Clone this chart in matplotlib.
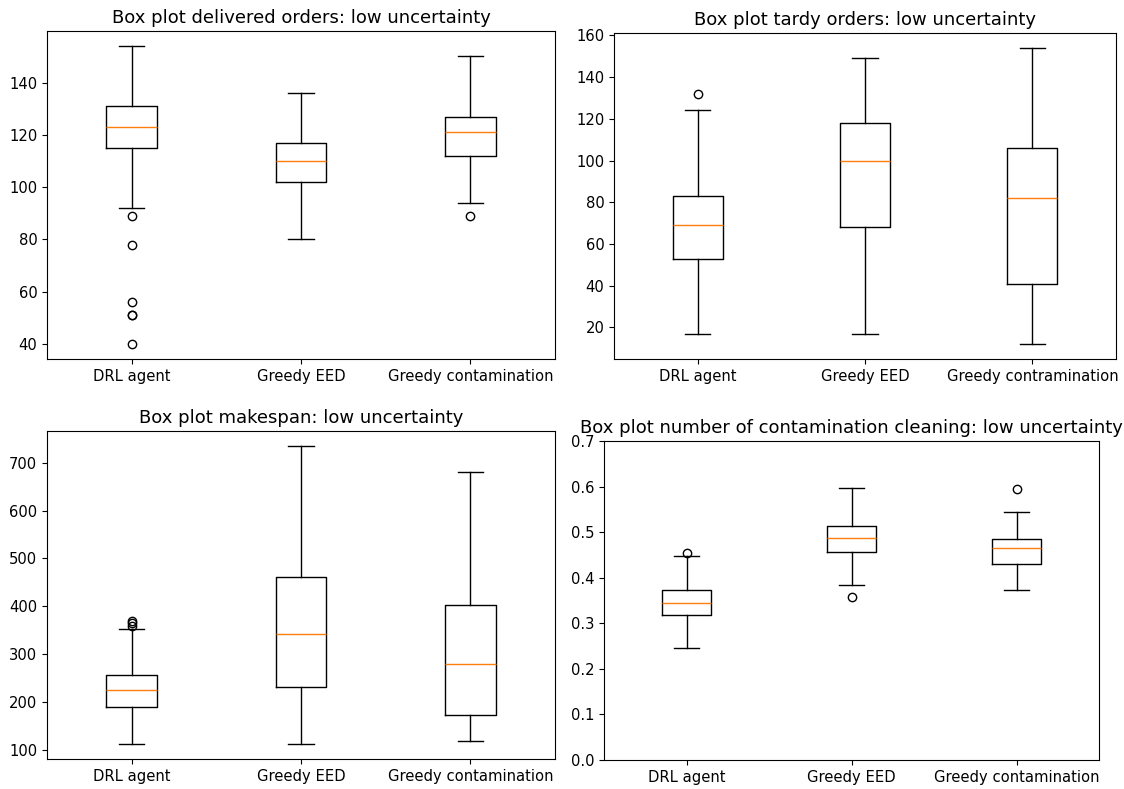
import matplotlib
matplotlib.use("Agg")
import matplotlib.pyplot as plt

W, H = 1124, 789
DPI = 100

categories = ["DRL agent", "Greedy EED", "Greedy contamination"]
categories_tardy = ["DRL agent", "Greedy EED", "Greedy contramination"]

# delivered orders
deliv_whislo = [92, 80, 94]
deliv_q1 = [115, 102, 112]
deliv_med = [123, 110, 121]
deliv_q3 = [131, 117, 127]
deliv_whishi = [154, 136, 150]
deliv_fliers = [[89, 78, 56, 51, 51, 40], [], [89]]

# tardy orders
tardy_whislo = [17, 17, 12]
tardy_q1 = [53, 68, 41]
tardy_med = [69, 100, 82]
tardy_q3 = [83, 118, 106]
tardy_whishi = [124, 149, 154]
tardy_fliers = [[132], [], []]

# makespan
mk_whislo = [112, 112, 118]
mk_q1 = [190, 231, 172]
mk_med = [225, 342, 279]
mk_q3 = [257, 462, 402]
mk_whishi = [352, 735, 681]
mk_fliers = [[358, 364, 370], [], []]

# contamination cleaning
cl_whislo = [0.245, 0.383, 0.373]
cl_q1 = [0.319, 0.456, 0.431]
cl_med = [0.344, 0.488, 0.466]
cl_q3 = [0.373, 0.513, 0.485]
cl_whishi = [0.447, 0.597, 0.545]
cl_fliers = [[0.454], [0.357], [0.594]]


def stats(lo, q1, med, q3, hi, fl, labels):
    return [dict(whislo=a, q1=b, med=c, q3=d, whishi=e, fliers=f, label=g)
            for a, b, c, d, e, f, g in zip(lo, q1, med, q3, hi, fl, labels)]


def px_axes(fig, x0, y0, x1, y1):
    return fig.add_axes([x0 / W, 1 - y1 / H, (x1 - x0) / W, (y1 - y0) / H])


fig = plt.figure(figsize=(W / DPI, H / DPI), dpi=DPI)
TICK = 10.6
TITLE = 13

panels = [
    ((47, 31, 555, 359), stats(deliv_whislo, deliv_q1, deliv_med, deliv_q3, deliv_whishi, deliv_fliers, categories),
     "Box plot delivered orders: low uncertainty", None),
    ((614, 33, 1116, 359), stats(tardy_whislo, tardy_q1, tardy_med, tardy_q3, tardy_whishi, tardy_fliers, categories_tardy),
     "Box plot tardy orders: low uncertainty", None),
    ((47, 431, 555, 759), stats(mk_whislo, mk_q1, mk_med, mk_q3, mk_whishi, mk_fliers, categories),
     "Box plot makespan: low uncertainty", None),
    ((604, 441, 1099, 760), stats(cl_whislo, cl_q1, cl_med, cl_q3, cl_whishi, cl_fliers, categories),
     "Box plot number of contamination cleaning: low uncertainty", (0, 0.7)),
]

for (x0, y0, x1, y1), st, title, ylim in panels:
    ax = px_axes(fig, x0, y0, x1, y1)
    ax.bxp(st, showfliers=True, widths=0.3)
    ax.set_title(title, fontsize=TITLE)
    ax.tick_params(labelsize=TICK)
    if ylim is not None:
        ax.set_ylim(*ylim)

fig.savefig("out.png", dpi=DPI)
